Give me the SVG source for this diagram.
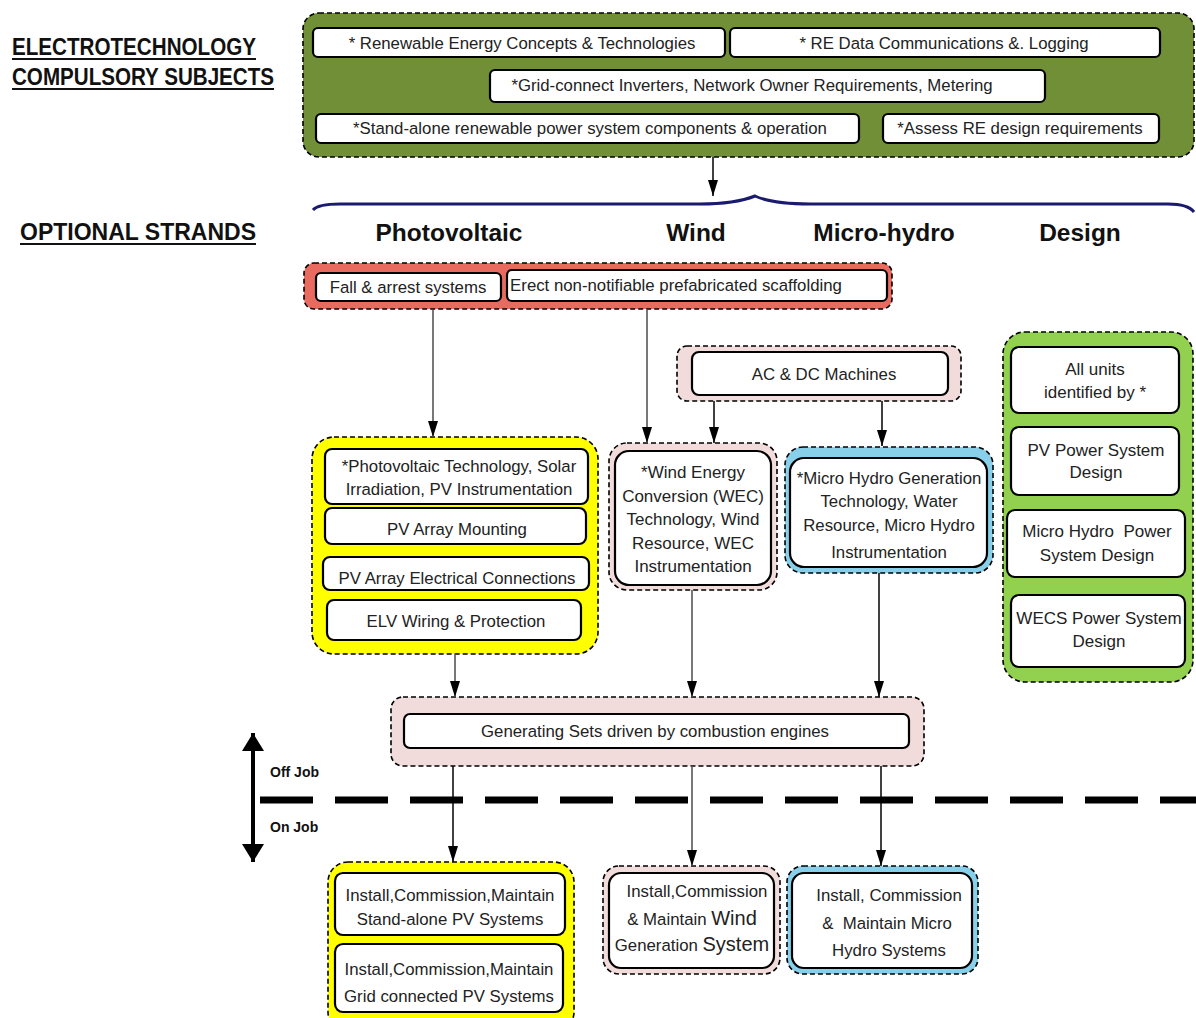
<svg xmlns="http://www.w3.org/2000/svg" width="1196" height="1018" viewBox="0 0 1196 1018">
  <defs>
    <marker id="arrow" viewBox="0 0 16 10" refX="16" refY="5" markerWidth="16" markerHeight="10" markerUnits="userSpaceOnUse" orient="auto">
      <path d="M0,0 L16,5 L0,10 z" fill="#000"/>
    </marker>
    <marker id="bigArrow" viewBox="0 0 18 22" refX="18" refY="11" markerWidth="18" markerHeight="22" markerUnits="userSpaceOnUse" orient="auto">
      <path d="M0,0 L18,11 L0,22 z" fill="#000"/>
    </marker>
    <marker id="bigArrowStart" viewBox="0 0 18 22" refX="0" refY="11" markerWidth="18" markerHeight="22" markerUnits="userSpaceOnUse" orient="auto">
      <path d="M18,0 L0,11 L18,22 z" fill="#000"/>
    </marker>
  </defs>
  <style>
    text { font-family: "Liberation Sans", Arial, sans-serif; fill: #222; }
    .box { font-size: 16.8px; text-anchor: middle; }
    .big { font-size: 17px; text-anchor: middle; }
    .head { font-size: 24.5px; font-weight: bold; text-anchor: middle; fill: #111; }
    .side { font-size: 24px; font-weight: bold; fill: #111; }
    .job { font-size: 14px; font-weight: bold; fill: #111; }
    .outer { stroke: #000; stroke-width: 1.6; stroke-dasharray: 5 3; }
    .inner { fill: #fff; stroke: #000; stroke-width: 2.2; }
    .conn { stroke: #555; stroke-width: 1.6; fill: none; marker-end: url(#arrow); }
    .pre { white-space: pre; }
  </style>

  <rect width="1196" height="1018" fill="#fff"/>

  <!-- side labels -->
  <g id="labels">
    <text class="side" x="12" y="55" textLength="244" lengthAdjust="spacingAndGlyphs">ELECTROTECHNOLOGY</text>
    <line x1="12" y1="59" x2="256" y2="59" stroke="#111" stroke-width="1.8"/>
    <text class="side" x="12" y="85" textLength="262" lengthAdjust="spacingAndGlyphs">COMPULSORY SUBJECTS</text>
    <line x1="12" y1="89" x2="274" y2="89" stroke="#111" stroke-width="1.8"/>
    <text class="side" x="20" y="240" textLength="236" lengthAdjust="spacingAndGlyphs">OPTIONAL STRANDS</text>
    <line x1="20" y1="244" x2="256" y2="244" stroke="#111" stroke-width="1.8"/>
    <text class="head" x="449" y="241">Photovoltaic</text>
    <text class="head" x="696" y="241">Wind</text>
    <text class="head" x="884" y="241">Micro-hydro</text>
    <text class="head" x="1080" y="241">Design</text>
    <text class="job" x="270" y="777">Off Job</text>
    <text class="job" x="270" y="832">On Job</text>
  </g>

  <!-- compulsory subjects -->
  <g id="compulsory">
    <rect class="outer" x="303" y="13" width="891" height="144" rx="16" fill="#718f36"/>
    <rect class="inner" x="313" y="28" width="412" height="29" rx="5"/>
    <text class="box" x="522" y="49">* Renewable Energy Concepts &amp; Technologies</text>
    <rect class="inner" x="730" y="28" width="430" height="29" rx="5"/>
    <text class="box" x="944" y="49">* RE Data Communications &amp;. Logging</text>
    <rect class="inner" x="490" y="70" width="555" height="32" rx="5"/>
    <text class="box" x="752" y="91">*Grid-connect Inverters, Network Owner Requirements, Metering</text>
    <rect class="inner" x="316" y="114" width="543" height="29" rx="5"/>
    <text class="box" x="590" y="134">*Stand-alone renewable power system components &amp; operation</text>
    <rect class="inner" x="883" y="114" width="276" height="29" rx="5"/>
    <text class="box" x="1020" y="134">*Assess RE design requirements</text>
  </g>

  <!-- brace over the strands -->
  <path id="brace" d="M313,210 Q318,204 340,204 L700,204 Q735,204 755,196 Q772,204 810,204 L1168,204 Q1188,204 1194,212" fill="none" stroke="#1a1a6e" stroke-width="3"/>

  <!-- safety units -->
  <g id="safety">
    <rect class="outer" x="304" y="263" width="588" height="46" rx="10" fill="#e96b60"/>
    <rect class="inner" x="316" y="273" width="185" height="28" rx="5"/>
    <text class="box" x="408" y="293">Fall &amp; arrest systems</text>
    <rect class="inner" x="507" y="270" width="380" height="31" rx="5"/>
    <text class="box" x="676" y="291">Erect non-notifiable prefabricated scaffolding</text>
  </g>

  <g id="machines">
    <rect class="outer" x="677" y="346" width="284" height="55" rx="10" fill="#f2dcdb"/>
    <rect class="inner" x="692" y="352" width="256" height="43" rx="7"/>
    <text class="box" x="824" y="380">AC &amp; DC Machines</text>
  </g>

  <g id="pv-units">
    <rect class="outer" x="312" y="437" width="286" height="217" rx="22" fill="#ffff00"/>
    <rect class="inner" x="325" y="449" width="263" height="55" rx="7"/>
    <text class="box" x="459" y="472">*Photovoltaic Technology, Solar</text>
    <text class="box" x="459" y="495">Irradiation, PV Instrumentation</text>
    <rect class="inner" x="325" y="508" width="261" height="36" rx="7"/>
    <text class="box" x="457" y="535">PV Array Mounting</text>
    <rect class="inner" x="323" y="557" width="266" height="33" rx="7"/>
    <text class="box" x="457" y="584">PV Array Electrical Connections</text>
    <rect class="inner" x="327" y="600" width="254" height="40" rx="7"/>
    <text class="box" x="456" y="627">ELV Wiring &amp; Protection</text>
  </g>

  <g id="wind-units">
    <rect class="outer" x="609" y="443" width="168" height="147" rx="18" fill="#f2dcdb"/>
    <rect class="inner" x="615" y="451" width="156" height="134" rx="14"/>
    <text class="big" x="693" y="478">*Wind Energy</text>
    <text class="big" x="693" y="502">Conversion (WEC)</text>
    <text class="big" x="693" y="525">Technology, Wind</text>
    <text class="big" x="693" y="549">Resource, WEC</text>
    <text class="big" x="693" y="572">Instrumentation</text>
  </g>

  <g id="hydro-units">
    <rect class="outer" x="785" y="447" width="208" height="126" rx="18" fill="#88cfe9"/>
    <rect class="inner" x="790" y="458" width="197" height="109" rx="14"/>
    <text class="box" x="889" y="484">*Micro Hydro Generation</text>
    <text class="box" x="889" y="507">Technology, Water</text>
    <text class="box" x="889" y="531">Resource, Micro Hydro</text>
    <text class="box" x="889" y="558">Instrumentation</text>
  </g>

  <g id="design-units">
    <rect class="outer" x="1003" y="332" width="190" height="350" rx="22" fill="#92d050"/>
    <rect class="inner" x="1011" y="347" width="168" height="66" rx="8"/>
    <text class="big" x="1095" y="375">All units</text>
    <text class="big" x="1095" y="398">identified by *</text>
    <rect class="inner" x="1011" y="427" width="168" height="68" rx="8"/>
    <text class="big" x="1096" y="456">PV Power System</text>
    <text class="big" x="1096" y="478">Design</text>
    <rect class="inner" x="1007" y="510" width="178" height="67" rx="8"/>
    <text class="big pre" x="1097" y="537">Micro Hydro  Power</text>
    <text class="big" x="1097" y="561">System Design</text>
    <rect class="inner" x="1011" y="595" width="174" height="72" rx="8"/>
    <text class="big" x="1099" y="624">WECS Power System</text>
    <text class="big" x="1099" y="647">Design</text>
  </g>

  <g id="gensets">
    <rect class="outer" x="391" y="697" width="533" height="69" rx="12" fill="#f2dcdb"/>
    <rect class="inner" x="404" y="714" width="505" height="34" rx="6"/>
    <text class="box" x="655" y="737">Generating Sets driven by combustion engines</text>
  </g>

  <g id="pv-install">
    <rect class="outer" x="328" y="862" width="246" height="170" rx="20" fill="#ffff00"/>
    <rect class="inner" x="335" y="873" width="230" height="62" rx="8"/>
    <text class="box" x="450" y="901">Install,Commission,Maintain</text>
    <text class="box" x="450" y="925">Stand-alone PV Systems</text>
    <rect class="inner" x="335" y="944" width="228" height="68" rx="8"/>
    <text class="box" x="449" y="975">Install,Commission,Maintain</text>
    <text class="box" x="449" y="1002">Grid connected PV Systems</text>
  </g>

  <g id="wind-install">
    <rect class="outer" x="603" y="866" width="177" height="108" rx="16" fill="#f2dcdb"/>
    <rect class="inner" x="609" y="873" width="165" height="95" rx="12"/>
    <text class="box" x="697" y="897">Install,Commission</text>
    <text class="box" x="692" y="925">&amp; Maintain <tspan font-size="20">Wind</tspan></text>
    <text class="box" x="692" y="951">Generation <tspan font-size="20">System</tspan></text>
  </g>

  <g id="hydro-install">
    <rect class="outer" x="787" y="866" width="191" height="108" rx="16" fill="#88cfe9"/>
    <rect class="inner" x="792" y="873" width="180" height="95" rx="12"/>
    <text class="box" x="889" y="901">Install, Commission</text>
    <text class="box pre" x="887" y="929">&amp;  Maintain Micro</text>
    <text class="box" x="889" y="956">Hydro Systems</text>
  </g>

  <!-- connectors -->
  <g id="connectors">
    <line class="conn" x1="713" y1="157" x2="713" y2="196" style="stroke:#111"/>
    <line class="conn" x1="433" y1="310" x2="433" y2="437"/>
    <line class="conn" x1="647" y1="310" x2="647" y2="443"/>
    <line class="conn" x1="714" y1="401" x2="714" y2="443" style="stroke:#111"/>
    <line class="conn" x1="882" y1="401" x2="882" y2="446" style="stroke:#111"/>
    <line class="conn" x1="455" y1="654" x2="455" y2="697"/>
    <line class="conn" x1="692" y1="590" x2="692" y2="697"/>
    <line class="conn" x1="879" y1="573" x2="879" y2="697" style="stroke:#111"/>
    <line class="conn" x1="453" y1="766" x2="453" y2="862" style="stroke:#111"/>
    <line class="conn" x1="692" y1="766" x2="692" y2="866"/>
    <line class="conn" x1="881" y1="766" x2="881" y2="866" style="stroke:#111"/>
    <!-- off job / on job divider -->
    <line x1="260" y1="800" x2="1196" y2="800" stroke="#000" stroke-width="7" stroke-dasharray="53 22"/>
    <line x1="253" y1="733" x2="253" y2="862" stroke="#000" stroke-width="4" marker-start="url(#bigArrowStart)" marker-end="url(#bigArrow)"/>
  </g>
</svg>
